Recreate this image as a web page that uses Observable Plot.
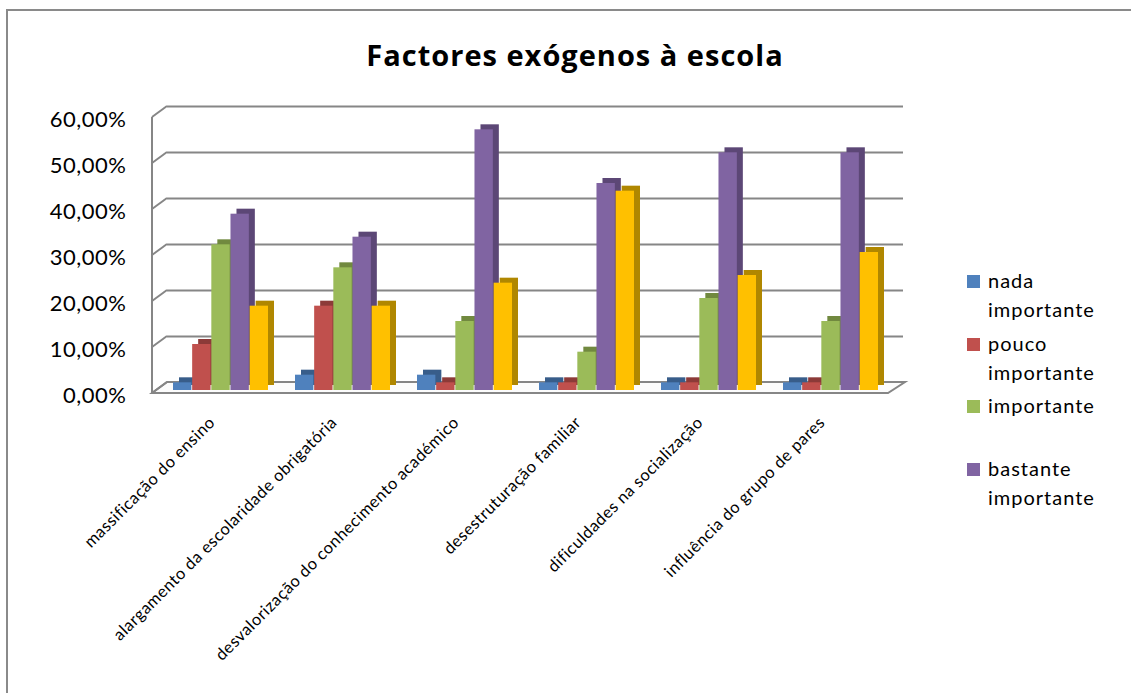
<!DOCTYPE html>
<html>
<head>
<meta charset="utf-8">
<script src="https://cdn.jsdelivr.net/npm/d3@7"></script>
<script src="https://cdn.jsdelivr.net/npm/@observablehq/plot@0.6"></script>
<style>
  html, body { margin: 0; padding: 0; background: #fff; }
  #wrap { position: relative; width: 1131px; height: 693px; overflow: hidden; font-family: Lato, "Open Sans", sans-serif; }
  #border { position: absolute; left: 6px; top: 9px; width: 1200px; height: 800px; border-left: 2px solid #8a8a8a; border-top: 2px solid #8a8a8a; }
  #title { position: absolute; left: 0; top: 41px; width: 1150px; text-align: center; font-family: "Open Sans", Lato, sans-serif; font-size: 29px; letter-spacing: 1px; font-weight: bold; line-height: 28px; color: #000; }
  #chart { position: absolute; left: 0; top: 0; }
  #legend { position: absolute; left: 967px; top: 266px; }
  .entry { position: relative; height: 62.5px; }
  .sw { position: absolute; left: 0; top: 9px; width: 13px; height: 13px; }
  .lab { position: absolute; left: 21px; top: 0; width: 135px; font-size: 20px; letter-spacing: 1px; line-height: 29px; color: #000; }
</style>
</head>
<body>
<div id="wrap">
  <div id="border"></div>
  <div id="chart"></div>
  <div id="title"></div>
  <div id="legend"></div>
</div>
<script>
// ---- data ----
const title = "Factores exógenos à escola";
const categories = [
  "massificação do ensino",
  "alargamento da escolaridade obrigatória",
  "desvalorização do conhecimento académico",
  "desestruturação familiar",
  "dificuldades na socialização",
  "influência do grupo de pares"
];
const seriesNames = ["nada importante", "pouco importante", "importante", "bastante importante", "muito importante"];
const legendNames = ["nada importante", "pouco importante", "importante", "bastante importante"];
const nadaImportante     = [1.67, 3.33, 3.33, 1.67, 1.67, 1.67];
const poucoImportante    = [10.00, 18.33, 1.67, 1.67, 1.67, 1.67];
const importante         = [31.67, 26.67, 15.00, 8.33, 20.00, 15.00];
const bastanteImportante = [38.33, 33.33, 56.67, 45.00, 51.67, 51.67];
const muitoImportante    = [18.33, 18.33, 23.33, 43.33, 25.00, 30.00];
const yTicks = [0, 10, 20, 30, 40, 50, 60];

// ---- styles ----
const frontColors = ["#4F81BD", "#C0504D", "#9BBB59", "#8064A2", "#FFC000"];
const sideColors  = ["#385D8A", "#8C3A38", "#71893F", "#5C4776", "#B08700"];

const values = [nadaImportante, poucoImportante, importante, bastanteImportante, muitoImportante];
const rows = categories.flatMap((c, i) => seriesNames.map((s, j) => ({cat: c, series: s, j, value: values[j][i]})));

const W = 1131, H = 693;
const xRange = [157, 894];
const padIn = 0.22, padOut = 0.11;
const bw = d3.scaleBand().domain(categories).range(xRange).paddingInner(padIn).paddingOuter(padOut).bandwidth();
const slot = bw / seriesNames.length;
const depthX = 6, depthY = -5;
const fmt = d => d.toFixed(2).replace(".", ",") + "%";

function walls(index, scales, vals, dims) {
  const y = scales.y;
  const left = dims.marginLeft, right = dims.width - dims.marginRight;
  const y0 = y(0);
  const g = d3.create("svg:g").attr("fill", "none").attr("stroke", "#868686").attr("stroke-width", 2);
  g.append("path")
    .attr("fill", "#fcfcfc")
    .attr("d", `M${left},${y0 + 3}L${right},${y0 + 3}L${right + 17},${y0 - 8}L${left + 15},${y0 - 8}Z`);
  g.append("path").attr("d", `M${left},${y(yTicks[yTicks.length - 1]) + 3}L${left},${y0 + 3}`);
  for (const v of yTicks) {
    g.append("path").attr("d", `M${left},${y(v) + 3}L${left + 15},${y(v) - 8}`);
  }
  return g.node();
}

const marks = [walls, Plot.ruleY(yTicks.slice(1), {dx: 15, dy: -8, stroke: "#868686", strokeWidth: 2})];
seriesNames.forEach((s, j) => {
  marks.push(Plot.barY(rows.filter(d => d.j === j), {
    x: "cat", y: "value", fill: sideColors[j],
    insetLeft: j * slot, insetRight: (seriesNames.length - 1 - j) * slot,
    dx: depthX, dy: depthY
  }));
});
seriesNames.forEach((s, j) => {
  marks.push(Plot.barY(rows.filter(d => d.j === j), {
    x: "cat", y: "value", fill: frontColors[j],
    insetLeft: j * slot, insetRight: (seriesNames.length - 1 - j) * slot
  }));
});
marks.push(Plot.text(yTicks, {
  y: d => d, text: fmt, frameAnchor: "left", textAnchor: "end",
  dx: -26, dy: 5, fontSize: 22, fill: "#000"
}));
marks.push(Plot.text(categories, {
  x: d => d, text: d => d, frameAnchor: "bottom", rotate: -45, textAnchor: "end",
  dx: -5, dy: 33, fontSize: 16.5, fill: "#000"
}));

const chart = Plot.plot({
  width: W, height: H,
  marginLeft: 152, marginRight: W - 888, marginTop: 114, marginBottom: H - 390,
  style: {fontFamily: "Lato, 'Open Sans', sans-serif", background: "transparent", overflow: "visible", letterSpacing: "0.5px"},
  x: {type: "band", domain: categories, range: xRange, paddingInner: padIn, paddingOuter: padOut, axis: null},
  y: {domain: [0, 60], axis: null},
  marks
});
document.getElementById("chart").appendChild(chart);
document.getElementById("title").textContent = title;

const legend = document.getElementById("legend");
legendNames.forEach((name, j) => {
  const e = document.createElement("div"); e.className = "entry";
  const sw = document.createElement("div"); sw.className = "sw"; sw.style.background = frontColors[j];
  const lab = document.createElement("div"); lab.className = "lab"; lab.textContent = name;
  e.appendChild(sw); e.appendChild(lab); legend.appendChild(e);
});
</script>
</body>
</html>
